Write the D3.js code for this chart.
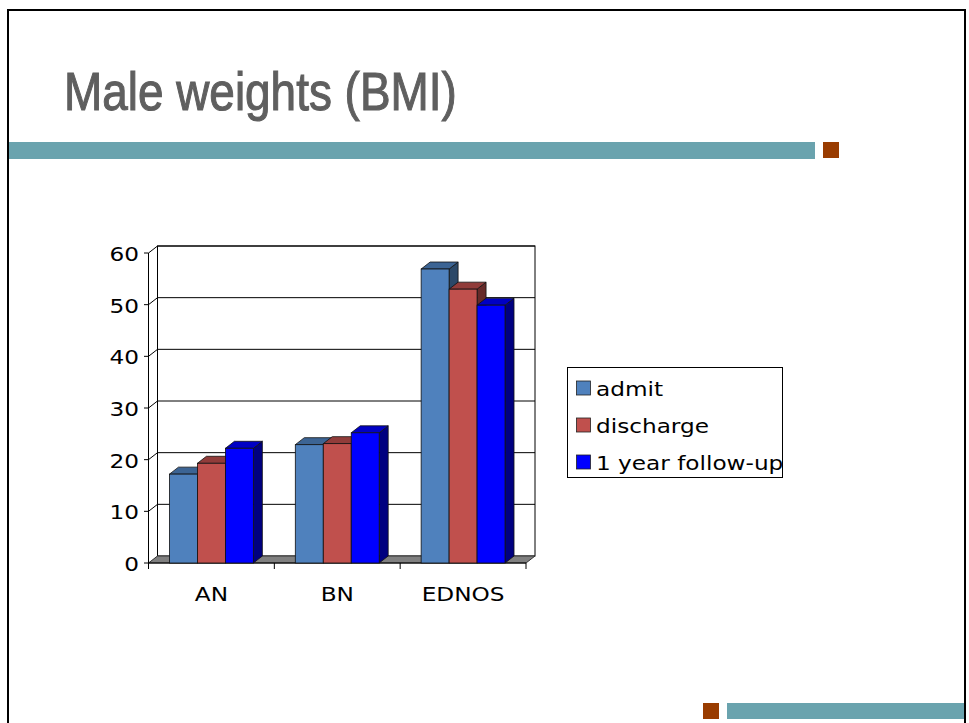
<!DOCTYPE html>
<html>
<head>
<meta charset="utf-8">
<script src="https://cdn.jsdelivr.net/npm/d3@7"></script>
<style>
  html, body { margin: 0; padding: 0; background: #fff; }
  svg { display: block; }
</style>
</head>
<body>
<svg id="slide" width="969" height="723"></svg>
<script>
// Chart data
const categories = ["AN", "BN", "EDNOS"];
const seriesNames = ["admit", "discharge", "1 year follow-up"];
const admit = [17.2, 22.9, 56.9];
const discharge = [19.3, 23.1, 53.0];
const followUp = [22.2, 25.2, 49.9];
const yTicks = [0, 10, 20, 30, 40, 50, 60];

const seriesValues = [admit, discharge, followUp];
// front / top / side shades for each series
const faceColors = [
  { front: "#4F81BD", top: "#3C6494", side: "#2B4868" },
  { front: "#C0504D", top: "#913C3A", side: "#662A29" },
  { front: "#0000FF", top: "#0000C4", side: "#000080" }
];

const svg = d3.select("#slide");

// Slide frame
svg.append("rect")
  .attr("x", 8).attr("y", 10).attr("width", 957).attr("height", 800)
  .attr("fill", "none").attr("stroke", "#000").attr("stroke-width", 2);

// Title
svg.append("text")
  .attr("transform", "translate(64,109.5) scale(0.85,1)")
  .attr("font-family", "'Liberation Sans', Arial, sans-serif")
  .attr("font-size", 54)
  .attr("fill", "#5F5F5F")
  .attr("stroke", "#5F5F5F").attr("stroke-width", 1.1)
  .text("Male weights (BMI)");

// Decorative bars
svg.append("rect").attr("x", 9).attr("y", 142).attr("width", 806).attr("height", 17).attr("fill", "#6AA3AE");
svg.append("rect").attr("x", 823).attr("y", 142).attr("width", 16).attr("height", 16).attr("fill", "#993C00");
svg.append("rect").attr("x", 703).attr("y", 703).attr("width", 16).attr("height", 16).attr("fill", "#993C00");
svg.append("rect").attr("x", 727).attr("y", 703).attr("width", 237).attr("height", 16).attr("fill", "#6AA3AE");

// 3D column chart
const x0 = d3.scaleBand().domain(categories).range([148.5, 526]).padding(0);
const x1 = d3.scaleBand().domain(d3.range(seriesNames.length))
  .range([0, x0.bandwidth()]).paddingInner(0).paddingOuter(0.75);
const y = d3.scaleLinear().domain([0, 60]).range([563, 253]);
const DX = 9, DY = -7; // depth offset

const chart = svg.append("g");
const textFont = "'DejaVu Sans', Verdana, sans-serif";
const SX = 1.16;

const xL = x0.range()[0], xR = x0.range()[1];

// Back wall
chart.append("rect")
  .attr("x", xL + DX).attr("y", y(60) + DY)
  .attr("width", xR - xL).attr("height", y(0) - y(60))
  .attr("fill", "#fff").attr("stroke", "#000").attr("stroke-width", 1);

// Gridlines on back wall and side wall
yTicks.filter(v => v > 0).forEach(v => {
  chart.append("line")
    .attr("x1", xL + DX).attr("x2", xR + DX)
    .attr("y1", y(v) + DY).attr("y2", y(v) + DY)
    .attr("stroke", "#000").attr("stroke-width", 1);
  chart.append("line")
    .attr("x1", xL).attr("x2", xL + DX)
    .attr("y1", y(v)).attr("y2", y(v) + DY)
    .attr("stroke", "#000").attr("stroke-width", 1);
});

// Floor
chart.append("path")
  .attr("d", d3.line()([[xL, y(0)], [xR, y(0)], [xR + DX, y(0) + DY], [xL + DX, y(0) + DY]]) + "Z")
  .attr("fill", "#808080").attr("stroke", "#333").attr("stroke-width", 1);

// Front vertical axis with ticks and labels
chart.append("line")
  .attr("x1", xL).attr("x2", xL).attr("y1", y(0)).attr("y2", y(60))
  .attr("stroke", "#000").attr("stroke-width", 1);
yTicks.forEach(v => {
  chart.append("line")
    .attr("x1", xL - 4.5).attr("x2", xL).attr("y1", y(v)).attr("y2", y(v))
    .attr("stroke", "#000").attr("stroke-width", 1);
  chart.append("text")
    .attr("transform", `translate(139,${y(v) + 1}) scale(${SX},1)`)
    .attr("text-anchor", "end").attr("dominant-baseline", "central")
    .attr("font-family", textFont).attr("font-size", 20).attr("fill", "#000")
    .text(v);
});

// Front floor edge with category ticks
chart.append("line")
  .attr("x1", xL).attr("x2", xR).attr("y1", y(0)).attr("y2", y(0))
  .attr("stroke", "#000").attr("stroke-width", 1);
const catTicks = categories.map(c => x0(c)).concat([xR]);
catTicks.forEach(t => {
  chart.append("line")
    .attr("x1", t).attr("x2", t).attr("y1", y(0)).attr("y2", y(0) + 6)
    .attr("stroke", "#000").attr("stroke-width", 1);
});
categories.forEach(c => {
  chart.append("text")
    .attr("transform", `translate(${x0(c) + x0.bandwidth() / 2},601) scale(${SX},1)`)
    .attr("text-anchor", "middle")
    .attr("font-family", textFont).attr("font-size", 20).attr("fill", "#000")
    .text(c);
});

// Bars, drawn left to right so nearer faces cover hidden ones
const bars = [];
categories.forEach((c, ci) => {
  seriesValues.forEach((vals, si) => {
    bars.push({ ci, si, value: vals[ci], x: x0(c) + x1(si), w: x1.bandwidth() });
  });
});
const barG = chart.append("g").selectAll("g").data(bars).join("g");
const poly = pts => d3.line()(pts) + "Z";
barG.append("path") // side face
  .attr("d", d => {
    const r = d.x + d.w, t = y(d.value), b = y(0);
    return poly([[r, t], [r + DX, t + DY], [r + DX, b + DY], [r, b]]);
  })
  .attr("fill", d => faceColors[d.si].side)
  .attr("stroke", "#111").attr("stroke-width", 0.8).attr("stroke-linejoin", "round");
barG.append("path") // top face
  .attr("d", d => {
    const l = d.x, r = d.x + d.w, t = y(d.value);
    return poly([[l, t], [r, t], [r + DX, t + DY], [l + DX, t + DY]]);
  })
  .attr("fill", d => faceColors[d.si].top)
  .attr("stroke", "#111").attr("stroke-width", 0.8).attr("stroke-linejoin", "round");
barG.append("rect") // front face
  .attr("x", d => d.x).attr("y", d => y(d.value))
  .attr("width", d => d.w).attr("height", d => y(0) - y(d.value))
  .attr("fill", d => faceColors[d.si].front)
  .attr("stroke", "#111").attr("stroke-width", 0.8);

// Legend
const legend = svg.append("g");
legend.append("rect")
  .attr("x", 567.5).attr("y", 367.5).attr("width", 215).attr("height", 110)
  .attr("fill", "#fff").attr("stroke", "#000").attr("stroke-width", 1);
seriesNames.forEach((name, i) => {
  const cy = 388 + i * 37;
  legend.append("rect")
    .attr("x", 576.5).attr("y", cy - 7).attr("width", 14).attr("height", 14)
    .attr("fill", faceColors[i].front).attr("stroke", "#222").attr("stroke-width", 0.8);
  legend.append("text")
    .attr("transform", `translate(596,${cy + 1}) scale(${SX},1)`)
    .attr("dominant-baseline", "central")
    .attr("font-family", textFont).attr("font-size", 20).attr("fill", "#000")
    .text(name);
});
</script>
</body>
</html>
